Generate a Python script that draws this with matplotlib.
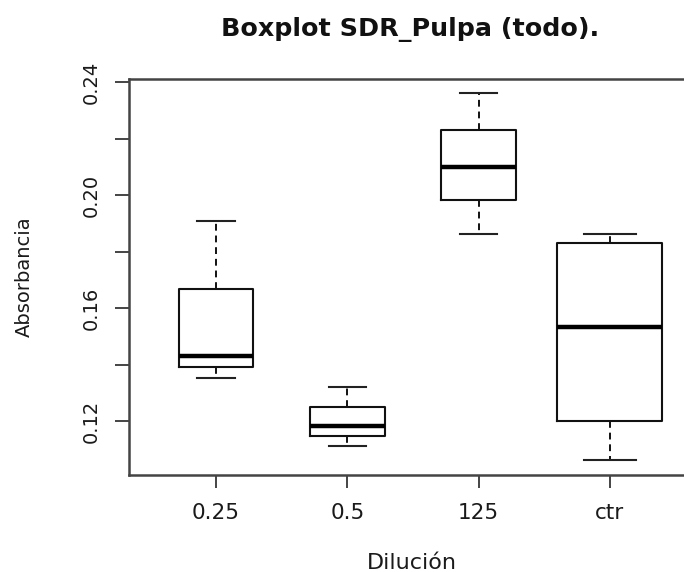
import matplotlib
matplotlib.use("Agg")
import matplotlib.pyplot as plt

# values
groups = ["0.25", "0.5", "125", "ctr"]
whislo = [0.1351, 0.1112, 0.1862, 0.1062]
q1 = [0.1392, 0.1147, 0.1982, 0.1201]
med = [0.1431, 0.1182, 0.2100, 0.1532]
q3 = [0.1668, 0.1251, 0.2230, 0.1831]
whishi = [0.1910, 0.1321, 0.2360, 0.1862]
box_widths = [0.57, 0.57, 0.57, 0.80]

yticks = [0.12, 0.14, 0.16, 0.18, 0.20, 0.22, 0.24]
ytick_labels = ["0.12", "", "0.16", "", "0.20", "", "0.24"]

plt.rcParams["font.family"] = ["DejaVu Sans"]

fig = plt.figure(figsize=(6.84, 5.72), dpi=100)
ax = fig.add_axes([129 / 684, 1 - 475 / 572, 1 - 129 / 684, (475 - 79) / 572])

stats = []
for i in range(len(groups)):
    stats.append({"label": groups[i], "whislo": whislo[i], "q1": q1[i],
                  "med": med[i], "q3": q3[i], "whishi": whishi[i], "fliers": []})

positions = range(1, len(groups) + 1)
ax.bxp(stats, positions=positions, widths=box_widths,
       capwidths=[w / 2 for w in box_widths],
       boxprops=dict(color="#111111", linewidth=1.5),
       medianprops=dict(color="black", linewidth=3.2),
       whiskerprops=dict(color="#111111", linewidth=1.4, linestyle=(0, (3.5, 2.5))),
       capprops=dict(color="#222222", linewidth=1.5),
       showfliers=False)

ax.set_xlim(1 - 87 / 131.3, 1 + (684 - 216) / 131.3)
ax.set_ylim(0.1009, 0.2411)

ax.set_yticks(yticks)
ax.set_yticklabels(ytick_labels)

for side in ["left", "top", "bottom"]:
    ax.spines[side].set_color("#444444")
    ax.spines[side].set_linewidth(1.8)
ax.spines["right"].set_visible(False)

ax.tick_params(axis="x", length=9, width=1.4, color="#444444", labelsize=15.5,
               pad=11, labelcolor="#1a1a1a")
ax.tick_params(axis="y", length=10, width=1.4, color="#444444", labelsize=14,
               pad=10, labelcolor="#1a1a1a", labelrotation=90)
for lbl in ax.get_yticklabels():
    lbl.set_va("center")

fig.text(410 / 684, 1 - 36 / 572, "Boxplot SDR_Pulpa (todo).", ha="center",
         va="baseline", fontsize=18.3, fontweight="bold", color="#111111")
fig.text(412 / 684, 1 - 569 / 572, "Dilución", ha="center", va="baseline",
         fontsize=16, color="#1a1a1a")
fig.text(24 / 684, 1 - 277 / 572, "Absorbancia", ha="center", va="center",
         rotation=90, fontsize=14, color="#1a1a1a")

plt.savefig("out.png", dpi=100)
